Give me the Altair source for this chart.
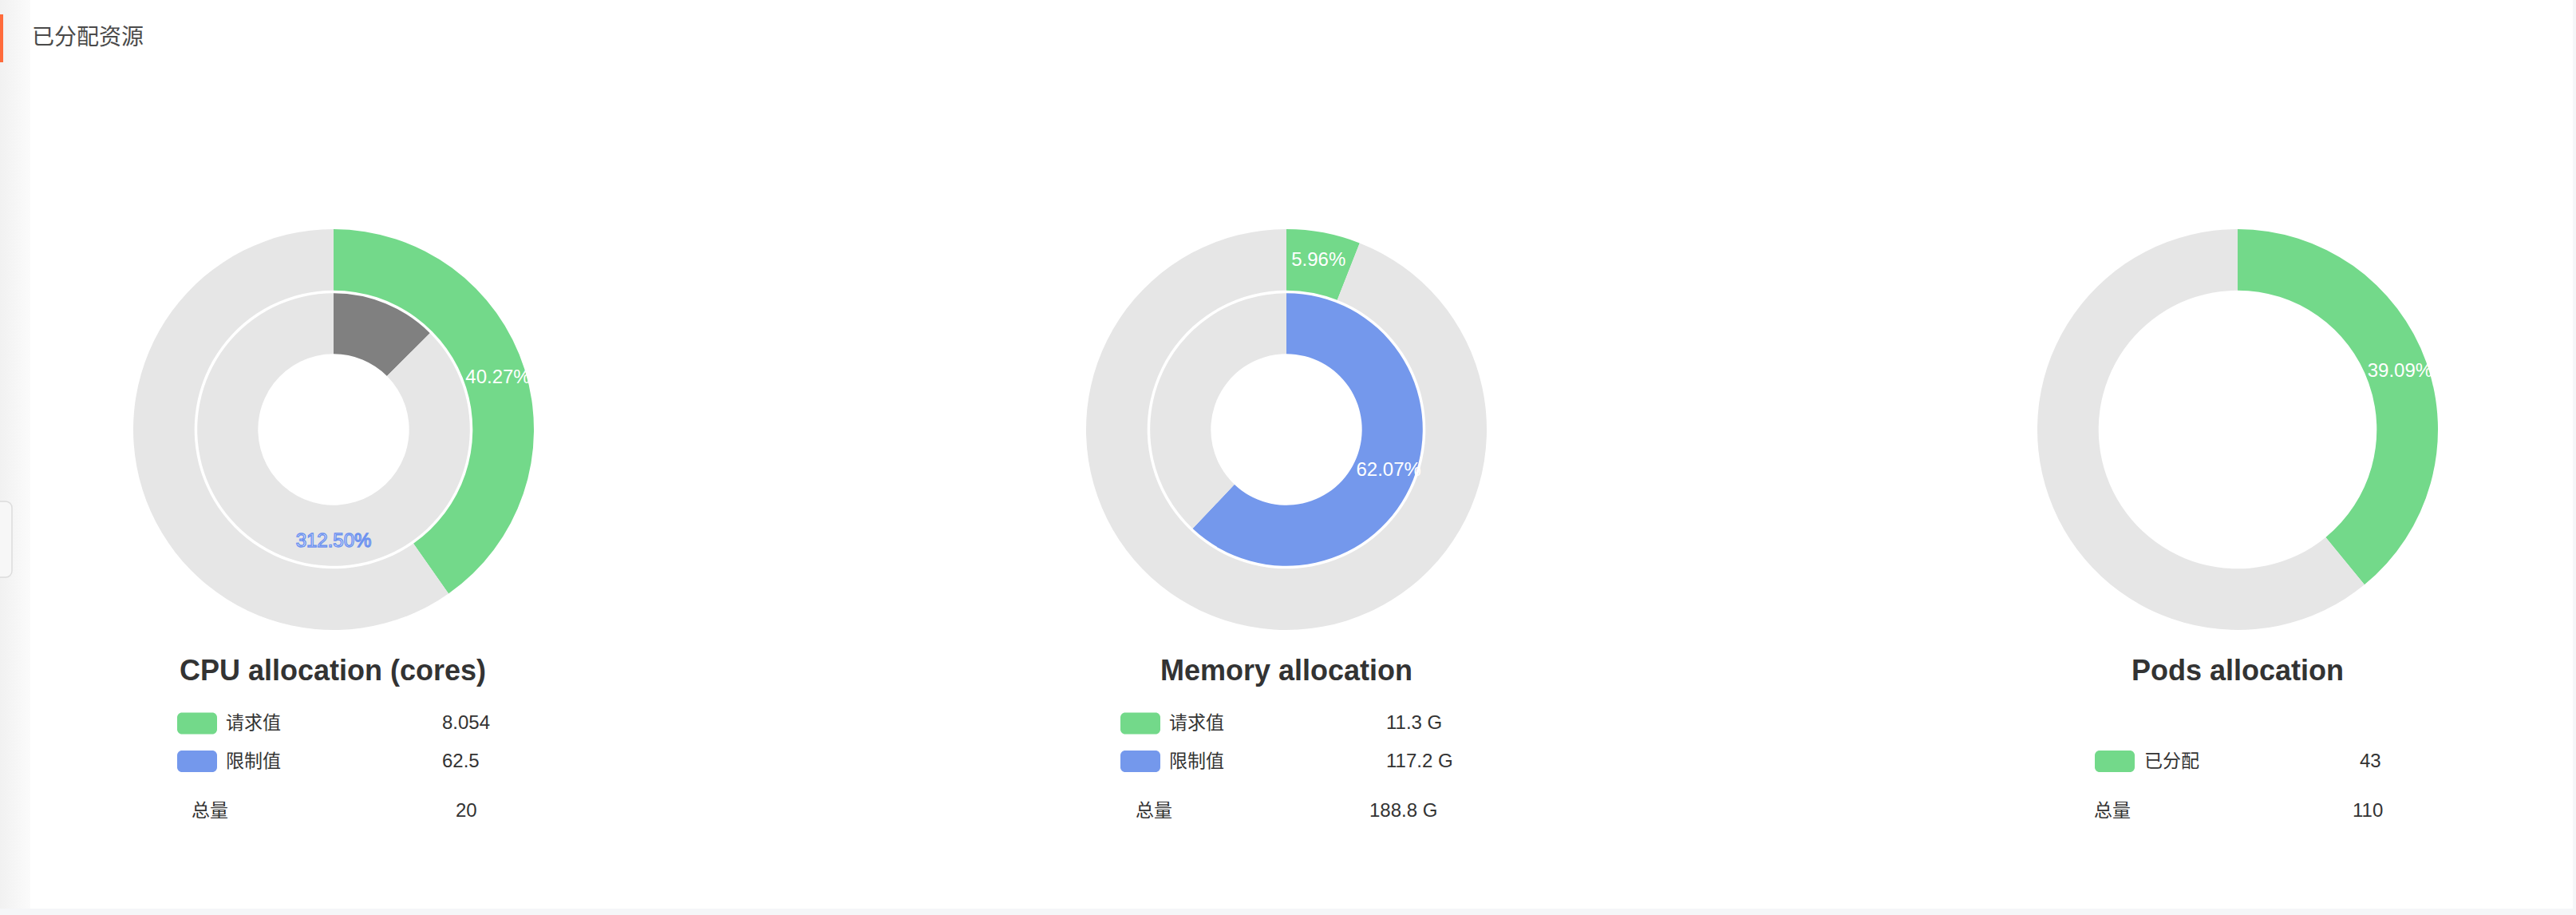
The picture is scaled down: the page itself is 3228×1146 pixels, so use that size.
import math
import altair as alt
import pandas as pd

# ---------------- data ----------------
HEADER = "已分配资源"
PANEL_TITLES = ["CPU allocation (cores)", "Memory allocation", "Pods allocation"]
SERIES_NAMES = [["请求值", "限制值"], ["请求值", "限制值"], ["已分配"]]
SERIES_VALUES = [[8.054, 62.5], [11.252, 117.19], [43]]
TOTAL_LABEL = "总量"
TOTALS = [20, 188.8, 110]
VALUE_FORMATS = ["{:g}", "{:.1f} G", "{:g}"]

# ---------------- style / layout ----------------
GREEN = "#73d98a"
BLUE = "#7498ec"
TRACK = "#e6e6e6"
OVERFLOW = "#808080"
SERIES_COLORS = [GREEN, BLUE]
LATIN = "Liberation Sans, Arial, Noto Sans CJK SC"
CJK = "Noto Sans CJK SC, Liberation Sans"

W, H = 3228, 1146
CENTERS_X = [418, 1612, 2804]
CY = 538
RINGS = [(251, 174.3, 216), (170.8, 94.7, 138)]  # outer radius, inner radius, label radius
ROW_Y = [906, 953.5]
TOTAL_Y = 1016
TITLE_Y = 852
TITLE_CX = [417, 1612, 2804]
LAYOUT = [
    dict(swatch=222, label=283, value=[554, 554], tl=240, tv=571, rows=[0, 1]),
    dict(swatch=1404, label=1465, value=[1737, 1737], tl=1423, tv=1716, rows=[0, 1]),
    dict(swatch=2625, label=2687, value=[2957], tl=2624, tv=2948, rows=[1]),
]

PX = lambda f: alt.X(f"{f}:Q", scale=None)
PY = lambda f: alt.Y(f"{f}:Q", scale=None)

layers = []

# ---------- page background pieces ----------
bg = pd.DataFrame([
    dict(x=3224, x2=W, y=0, y2=H, color="#f5f6f8"),
    dict(x=0, x2=W, y=1138, y2=H, color="#f5f6f8"),
])
layers.append(alt.Chart(bg).mark_rect().encode(
    x=PX("x"), x2="x2", y=PY("y"), y2="y2", color=alt.Color("color:N", scale=None)))

grad = alt.Gradient(gradient="linear", x1=0, x2=1, y1=0, y2=0,
                    stops=[alt.GradientStop(color="#f1f1f1", offset=0),
                           alt.GradientStop(color="#fbfbfb", offset=1)])
layers.append(alt.Chart(pd.DataFrame([dict(x=0, x2=38, y=0, y2=1138)])).mark_rect(color=grad).encode(
    x=PX("x"), x2="x2", y=PY("y"), y2="y2"))

layers.append(alt.Chart(pd.DataFrame([dict(x=-20, x2=15, y=628, y2=723)])).mark_rect(
    fill="#f7f7f7", stroke="#dcdcdc", strokeWidth=1.5, cornerRadius=8).encode(
    x=PX("x"), x2="x2", y=PY("y"), y2="y2"))

layers.append(alt.Chart(pd.DataFrame([dict(x=0, x2=4, y=18, y2=78)])).mark_rect(color="#ff6b3b").encode(
    x=PX("x"), x2="x2", y=PY("y"), y2="y2"))

layers.append(alt.Chart(pd.DataFrame([dict(x=40, y=48, t=HEADER)])).mark_text(
    align="left", baseline="middle", font=CJK, fontSize=28, color="#4a4a4a").encode(
    x=PX("x"), y=PY("y"), text="t:N"))

# ---------- donuts ----------
ring_layers = []
for p, (vals, total) in enumerate(zip(SERIES_VALUES, TOTALS)):
    cx = CENTERS_X[p]
    for s, v in enumerate(vals):
        r_out, r_in, r_lab = RINGS[s]
        frac = v / total
        over = frac > 1
        used = frac % 1 if over else frac
        label = f"{frac * 100:.2f}%"
        df = pd.DataFrame([
            dict(idx=0, value=used, color=OVERFLOW if over else SERIES_COLORS[s],
                 label="" if over else label),
            dict(idx=1, value=1 - used, color=TRACK, label=""),
        ])
        base = alt.Chart(df).encode(
            theta=alt.Theta("value:Q", stack=True),
            order=alt.Order("idx:Q"),
            x=alt.value(cx), y=alt.value(CY))
        arc = base.mark_arc(radius=r_out, radius2=r_in).encode(
            color=alt.Color("color:N", scale=None))
        txt = base.mark_text(radius=r_lab, font=LATIN, fontSize=24, color="white").encode(
            text="label:N")
        ring_layers.append(alt.layer(arc, txt))
        if over:
            ring_layers.append(alt.Chart(pd.DataFrame([dict(t=label)])).mark_text(
                theta=math.pi, radius=140, font=LATIN, fontSize=24,
                fill="#ffffff", stroke="#6e93ef", strokeWidth=1.4).encode(
                x=alt.value(cx), y=alt.value(CY), text="t:N"))

# ---------- titles ----------
titles = pd.DataFrame([dict(x=TITLE_CX[p], y=TITLE_Y, t=PANEL_TITLES[p]) for p in range(3)])
layers.append(alt.Chart(titles).mark_text(
    align="center", baseline="alphabetic", font=LATIN, fontSize=36, fontWeight="bold",
    color="#333333").encode(x=PX("x"), y=PY("y"), text="t:N"))

# ---------- legends ----------
sw, labs, vals_t = [], [], []
for p in range(3):
    lay = LAYOUT[p]
    fmt = VALUE_FORMATS[p]
    for s, name in enumerate(SERIES_NAMES[p]):
        ry = ROW_Y[lay["rows"][s]]
        sw.append(dict(x=lay["swatch"], x2=lay["swatch"] + 50,
                       y=ry - 13.5, y2=ry + 13.5, color=SERIES_COLORS[s]))
        labs.append(dict(x=lay["label"], y=ry, t=name))
        vals_t.append(dict(x=lay["value"][s], y=ry, t=fmt.format(SERIES_VALUES[p][s])))
    labs.append(dict(x=lay["tl"], y=TOTAL_Y, t=TOTAL_LABEL))
    vals_t.append(dict(x=lay["tv"], y=TOTAL_Y, t=fmt.format(TOTALS[p])))

layers.append(alt.Chart(pd.DataFrame(sw)).mark_rect(cornerRadius=6).encode(
    x=PX("x"), x2="x2", y=PY("y"), y2="y2", color=alt.Color("color:N", scale=None)))
layers.append(alt.Chart(pd.DataFrame(labs)).mark_text(
    align="left", baseline="middle", font=CJK, fontSize=23, color="#333333").encode(
    x=PX("x"), y=PY("y"), text="t:N"))
layers.append(alt.Chart(pd.DataFrame(vals_t)).mark_text(
    align="left", baseline="middle", font=LATIN, fontSize=24, color="#333333").encode(
    x=PX("x"), y=PY("y"), text="t:N"))

chart = alt.layer(*layers, *ring_layers).resolve_scale(theta="independent").properties(
    width=W, height=H, padding=0, autosize="none", background="white"
).configure_view(stroke=None)

chart.save("out.html", embed_options={"renderer": "svg", "actions": False})
